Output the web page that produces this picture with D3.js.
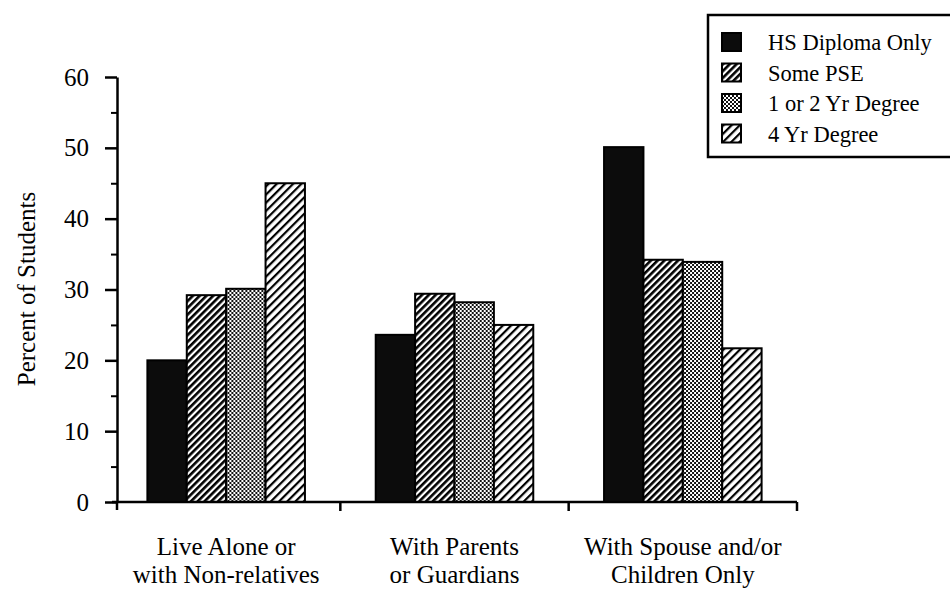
<!DOCTYPE html>
<html>
<head>
<meta charset="utf-8">
<script src="https://cdn.jsdelivr.net/npm/d3@7"></script>
<style>
  body { margin: 0; background: #fff; }
  svg, svg text { font-family: 'Liberation Serif', 'Times New Roman', Times, serif; }
</style>
</head>
<body>
<svg id="chart" width="950" height="593"></svg>
<script>
// data
const categories = ["Live Alone or with Non-relatives", "With Parents or Guardians", "With Spouse and/or Children Only"];
const categoryLines = [["Live Alone or", "with Non-relatives"], ["With Parents", "or Guardians"], ["With Spouse and/or", "Children Only"]];
const seriesNames = ["HS Diploma Only", "Some PSE", "1 or 2 Yr Degree", "4 Yr Degree"];
const hsDiploma = [20, 23.6, 50.1];
const somePse = [29.2, 29.4, 34.2];
const oneTwoYr = [30.1, 28.2, 33.9];
const fourYr = [45, 25, 21.7];
const yTicks = [0, 10, 20, 30, 40, 50, 60];
const yMinorTicks = [5, 15, 25, 35, 45, 55];

const seriesValues = [hsDiploma, somePse, oneTwoYr, fourYr];
const fills = ["#0c0c0c", "url(#hatchDense)", "url(#checker)", "url(#hatchLight)"];
const serif = "'Liberation Serif', 'Times New Roman', Times, serif";

const svg = d3.select('#chart');

// patterns
const defs = svg.append('defs');

function hatch(id, size, width) {
  const p = defs.append('pattern')
    .attr('id', id)
    .attr('patternUnits', 'userSpaceOnUse')
    .attr('width', size)
    .attr('height', size)
    .attr('patternTransform', 'rotate(45)');
  p.append('rect').attr('width', size).attr('height', size).attr('fill', '#fff');
  p.append('rect').attr('width', width).attr('height', size).attr('fill', '#000');
}
hatch('hatchDense', 4.8, 2.6);
hatch('hatchLight', 5.8, 2.2);

const chk = defs.append('pattern')
  .attr('id', 'checker')
  .attr('patternUnits', 'userSpaceOnUse')
  .attr('width', 4)
  .attr('height', 4);
chk.append('rect').attr('width', 4).attr('height', 4).attr('fill', '#fff');
chk.append('rect').attr('width', 2).attr('height', 2).attr('fill', '#111');
chk.append('rect').attr('x', 2).attr('y', 2).attr('width', 2).attr('height', 2).attr('fill', '#111');

// scales
const x0 = d3.scaleBand()
  .domain(categories)
  .range([112, 797])
  .paddingInner(0.31)
  .paddingOuter(0.155);

const x1 = d3.scaleBand()
  .domain(seriesNames)
  .range([0, x0.bandwidth()]);

const y = d3.scaleLinear()
  .domain([0, 60])
  .range([502, 77]);

// bars
const groups = svg.append('g')
  .selectAll('g')
  .data(categories)
  .join('g')
  .attr('transform', d => `translate(${x0(d)},0)`);

groups.selectAll('rect')
  .data((c, ci) => seriesNames.map((s, si) => ({ s, si, v: seriesValues[si][ci] })))
  .join('rect')
  .attr('x', d => x1(d.s))
  .attr('y', d => y(d.v))
  .attr('width', x1.bandwidth())
  .attr('height', d => y(0) - y(d.v))
  .attr('fill', d => fills[d.si])
  .attr('stroke', '#000')
  .attr('stroke-width', 2);

// y axis
const axisX = 117;
const yAxis = svg.append('g')
  .attr('transform', `translate(${axisX},0)`)
  .call(d3.axisLeft(y).tickValues(yTicks).tickSize(12).tickSizeOuter(0).tickPadding(16))
  .attr('font-family', serif)
  .attr('font-size', 25);
yAxis.select('.domain').attr('stroke', '#000').attr('stroke-width', 2.5);
yAxis.selectAll('.tick line').attr('stroke-width', 2.5);
yAxis.selectAll('.tick text').attr('fill', '#000');

svg.append('g')
  .attr('transform', `translate(${axisX},0)`)
  .call(d3.axisLeft(y).tickValues(yMinorTicks).tickSize(6).tickSizeOuter(0).tickFormat(''))
  .call(g => g.select('.domain').remove())
  .selectAll('.tick line').attr('stroke-width', 2);

// small overhang of the y axis below the baseline
svg.append('line')
  .attr('x1', axisX).attr('x2', axisX)
  .attr('y1', y(0)).attr('y2', y(0) + 8)
  .attr('stroke', '#000').attr('stroke-width', 2.5);

// x axis with ticks between groups
const xStart = x0.range()[0];
const xEnd = x0.range()[1];
svg.append('line')
  .attr('x1', xStart).attr('x2', xEnd)
  .attr('y1', y(0)).attr('y2', y(0))
  .attr('stroke', '#000').attr('stroke-width', 2.5);

const gap = x0.step() * x0.paddingInner() / 2;
svg.append('g')
  .selectAll('line')
  .data(categories)
  .join('line')
  .attr('x1', d => x0(d) + x0.bandwidth() + gap)
  .attr('x2', d => x0(d) + x0.bandwidth() + gap)
  .attr('y1', y(0))
  .attr('y2', y(0) + 9)
  .attr('stroke', '#000')
  .attr('stroke-width', 2.5);

// category labels
const labels = svg.append('g')
  .selectAll('text')
  .data(categories)
  .join('text')
  .attr('text-anchor', 'middle')
  .attr('font-family', serif)
  .attr('font-size', 25)
  .attr('fill', '#000');

labels.selectAll('tspan')
  .data((d, i) => categoryLines[i].map(t => ({ t, c: d })))
  .join('tspan')
  .attr('x', d => x0(d.c) + x0.bandwidth() / 2)
  .attr('y', (d, i) => 555 + i * 28)
  .text(d => d.t);

// y axis title
svg.append('text')
  .attr('transform', 'translate(35,289) rotate(-90)')
  .attr('text-anchor', 'middle')
  .attr('font-family', serif)
  .attr('font-size', 25)
  .attr('fill', '#000')
  .text('Percent of Students');

// legend
const legend = svg.append('g');
legend.append('rect')
  .attr('x', 708)
  .attr('y', 15)
  .attr('width', 270)
  .attr('height', 142)
  .attr('fill', 'none')
  .attr('stroke', '#000')
  .attr('stroke-width', 2.5);

const items = legend.selectAll('g.item')
  .data(seriesNames)
  .join('g')
  .attr('class', 'item')
  .attr('transform', (d, i) => `translate(0,${42 + i * 30.5})`);

items.append('rect')
  .attr('x', 722)
  .attr('y', -9)
  .attr('width', 19)
  .attr('height', 18)
  .attr('fill', (d, i) => fills[i])
  .attr('stroke', '#000')
  .attr('stroke-width', 2);

items.append('text')
  .attr('x', 768)
  .attr('y', 8)
  .attr('font-family', serif)
  .attr('font-size', 22.5)
  .attr('fill', '#000')
  .text(d => d);
</script>
</body>
</html>
